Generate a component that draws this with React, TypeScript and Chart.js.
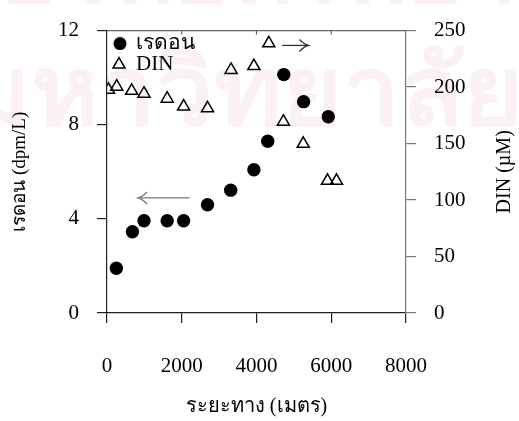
import React, { useEffect, useRef } from "react";
import { Chart, registerables } from "chart.js";

Chart.register(...registerables);

// ---- data ----
const radonDistance = [250, 680, 990, 1610, 2050, 2690, 3310, 3930, 4300, 4730, 5260, 5920];
const radonValues = [1.9, 3.45, 3.92, 3.92, 3.92, 4.6, 5.22, 6.09, 7.3, 10.13, 8.98, 8.34];
const dinDistance = [40, 260, 660, 990, 1610, 2050, 2690, 3320, 3930, 4330, 4720, 5250, 5900, 6140];
const dinValues = [197.6, 200.3, 196.7, 194.2, 189.7, 182.7, 181.2, 215.2, 218.6, 238.8, 169.4, 149.8, 117, 117];

const seriesLabels = ["เรดอน", "DIN"];
const xTitle = "ระยะทาง (เมตร)";
const yLeftTitle = "เรดอน (dpm/L)";
const yRightTitle = "DIN (µM)";
const watermarkLines = ["ศูนย์วิทยทรัพยากร", "มหาวิทยาลัย"];
const topTickValues = [2000, 4000, 6000];

// annotation arrows in data units (x distance, left-axis value)
const arrowRightFrom = [4690, 11.37];
const arrowRightTo = [5390, 11.37];
const arrowLeftFrom = [2210, 4.89];
const arrowLeftTo = [830, 4.89];

const SERIF = "'Liberation Serif', 'Times New Roman', serif";

function drawArrow(ctx: CanvasRenderingContext2D, x1: number, y1: number, x2: number, y2: number, color: string) {
  ctx.save();
  ctx.strokeStyle = color;
  ctx.lineWidth = 1.3;
  ctx.beginPath();
  ctx.moveTo(x1, y1);
  ctx.lineTo(x2, y2);
  ctx.stroke();
  const dir = Math.sign(x2 - x1);
  ctx.beginPath();
  ctx.moveTo(x2 - dir * 9, y2 - 6);
  ctx.quadraticCurveTo(x2 - dir * 4, y2 - 1, x2, y2);
  ctx.quadraticCurveTo(x2 - dir * 4, y2 + 1, x2 - dir * 9, y2 + 6);
  ctx.stroke();
  ctx.restore();
}

function drawTriangle(ctx: CanvasRenderingContext2D, x: number, y: number, r: number) {
  ctx.beginPath();
  for (let i = 0; i < 3; i++) {
    const a = (i * 2 * Math.PI) / 3;
    const px = x + Math.sin(a) * r;
    const py = y - Math.cos(a) * r;
    if (i === 0) ctx.moveTo(px, py);
    else ctx.lineTo(px, py);
  }
  ctx.closePath();
}

const decorPlugin = {
  id: "decor",
  beforeDraw(chart: any) {
    const ctx = chart.ctx as CanvasRenderingContext2D;
    ctx.save();
    ctx.fillStyle = "#fff";
    ctx.fillRect(0, 0, chart.width, chart.height);
    ctx.fillStyle = "#faf0f6";
    ctx.textBaseline = "alphabetic";
    ctx.font = "bold 96px 'Noto Sans', sans-serif";
    ctx.textAlign = "center";
    ctx.fillText(watermarkLines[0], chart.width / 2 - 10, 2);
    ctx.textAlign = "right";
    const w = ctx.measureText(watermarkLines[1]).width;
    const target = 560;
    ctx.translate(chart.width + 4, 124);
    ctx.scale(target / w, 1);
    ctx.fillText(watermarkLines[1], 0, 0);
    ctx.restore();
  },
  afterDatasetsDraw(chart: any) {
    const ctx = chart.ctx as CanvasRenderingContext2D;
    const { left, right, top, bottom } = chart.chartArea;
    const xs = chart.scales.x;
    const ys = chart.scales.y;
    ctx.save();
    // top frame line
    ctx.strokeStyle = "#666";
    ctx.lineWidth = 1.2;
    ctx.beginPath();
    ctx.moveTo(left, top);
    ctx.lineTo(right, top);
    ctx.stroke();
    topTickValues.forEach((v) => {
      const px = xs.getPixelForValue(v);
      ctx.beginPath();
      ctx.moveTo(px, top);
      ctx.lineTo(px, top + 4);
      ctx.stroke();
    });
    // arrows
    drawArrow(ctx, xs.getPixelForValue(arrowRightFrom[0]), ys.getPixelForValue(arrowRightFrom[1]),
      xs.getPixelForValue(arrowRightTo[0]), ys.getPixelForValue(arrowRightTo[1]), "#333");
    drawArrow(ctx, xs.getPixelForValue(arrowLeftFrom[0]), ys.getPixelForValue(arrowLeftFrom[1]),
      xs.getPixelForValue(arrowLeftTo[0]), ys.getPixelForValue(arrowLeftTo[1]), "#777");
    // legend
    const lx = left + 13;
    const ly1 = top + 13;
    const ly2 = top + 33;
    ctx.fillStyle = "#000";
    ctx.beginPath();
    ctx.arc(lx, ly1, 6.5, 0, Math.PI * 2);
    ctx.fill();
    ctx.strokeStyle = "#000";
    ctx.lineWidth = 1.5;
    drawTriangle(ctx, lx - 1, ly2 + 1, 7);
    ctx.stroke();
    ctx.font = `21px ${SERIF}`;
    ctx.textAlign = "left";
    ctx.textBaseline = "middle";
    ctx.fillText(seriesLabels[0], left + 29, ly1);
    ctx.fillText(seriesLabels[1], left + 29, ly2 + 1);
    // right axis title, reading bottom-to-top like the left one
    ctx.translate(chart.width - 14, (top + bottom) / 2);
    ctx.rotate(-Math.PI / 2);
    ctx.textAlign = "center";
    ctx.font = `20px ${SERIF}`;
    ctx.fillText(yRightTitle, 0, 0);
    ctx.restore();
  },
};

export default function App() {
  const ref = useRef<HTMLCanvasElement | null>(null);
  useEffect(() => {
    document.body.style.margin = "0";
    const canvas = ref.current!;
    const tickFont = { family: SERIF, size: 21 };
    const plain = (v: any) => String(v);
    const gridCommon = (color: string) => ({
      drawOnChartArea: false,
      drawTicks: true,
      tickLength: 10,
      color,
      lineWidth: 1.2,
    });
    const chart = new Chart(canvas, {
      type: "scatter",
      data: {
        datasets: [
          {
            label: seriesLabels[0],
            data: radonDistance.map((x, i) => ({ x, y: radonValues[i] })),
            yAxisID: "y",
            pointStyle: "circle",
            pointRadius: 6.7,
            backgroundColor: "#000",
            borderColor: "#000",
            borderWidth: 0,
          },
          {
            label: seriesLabels[1],
            data: dinDistance.map((x, i) => ({ x, y: dinValues[i] })),
            yAxisID: "y1",
            pointStyle: "triangle",
            pointRadius: 7,
            backgroundColor: "rgba(0,0,0,0)",
            borderColor: "#000",
            borderWidth: 1.5,
          },
        ],
      },
      options: {
        animation: false,
        responsive: false,
        maintainAspectRatio: false,
        layout: { padding: { top: 16, left: 0, right: 0, bottom: 0 } },
        plugins: { legend: { display: false }, tooltip: { enabled: false } },
        scales: {
          x: {
            type: "linear",
            min: 0,
            max: 8000,
            ticks: { stepSize: 2000, color: "#000", font: tickFont, padding: 31, maxRotation: 0, callback: plain },
            grid: gridCommon("#222"),
            border: { color: "#222", width: 1.2 },
            title: { display: true, text: xTitle, color: "#000", font: { family: SERIF, size: 20 }, padding: { top: 0, bottom: 2 } },
            afterFit: (s: any) => { s.height = 108; },
          },
          y: {
            position: "left",
            min: 0,
            max: 12,
            ticks: { stepSize: 4, color: "#000", font: tickFont, padding: 18, callback: plain },
            grid: gridCommon("#222"),
            border: { color: "#222", width: 1.2 },
            title: { display: true, text: yLeftTitle, color: "#000", font: { family: SERIF, size: 19 }, padding: { top: 9, bottom: 0 } },
            afterFit: (s: any) => { s.width = 107; },
          },
          y1: {
            position: "right",
            min: 0,
            max: 250,
            ticks: { stepSize: 50, color: "#000", font: tickFont, padding: 18, callback: plain },
            grid: gridCommon("#777"),
            border: { color: "#777", width: 1.2 },
            title: { display: false },
            afterFit: (s: any) => { s.width = 113; },
          },
        },
      },
      plugins: [decorPlugin],
    } as any);
    return () => chart.destroy();
  }, []);
  return <canvas ref={ref} width={519} height={421} style={{ display: "block" }} />;
}
